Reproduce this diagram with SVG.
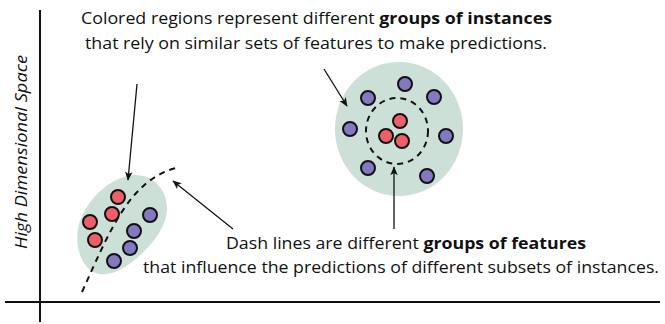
<svg xmlns="http://www.w3.org/2000/svg" width="665" height="324" viewBox="0 0 665 324">
<defs>
<style>
.txt{font-family:"Open Sans","Noto Sans","Liberation Sans",sans-serif;font-size:16.5px;fill:#111}
.b{font-weight:bold}
.ax{stroke:#111;stroke-width:2;fill:none}
.region{fill:#cde0d7}
.red{fill:#ef5f69;stroke:#111;stroke-width:2}
.blue{fill:#8279c0;stroke:#111;stroke-width:2}
.dash{fill:none;stroke:#111;stroke-width:2;stroke-dasharray:6 5}
.arr{stroke:#111;stroke-width:1.3;fill:none;marker-end:url(#ah)}
</style>
<marker id="ah" viewBox="0 0 12 10" refX="11" refY="5" markerWidth="9" markerHeight="8" markerUnits="userSpaceOnUse" orient="auto">
<path d="M0,0 L12,5 L0,10 L3,5 Z" fill="#111"/>
</marker>
</defs>
<rect width="665" height="324" fill="#fff"/>
<g id="axes">
<line class="ax" x1="40" y1="10" x2="40" y2="322"/>
<line class="ax" x1="5" y1="302" x2="660" y2="302"/>
<text class="txt" font-style="italic" font-size="16" transform="translate(27,152) rotate(-90)" text-anchor="middle" textLength="194" lengthAdjust="spacingAndGlyphs">High Dimensional Space</text>
</g>
<g id="region-left">
<path class="region" d="M136,175 C153,175 167,190 167,208 C167,228 150,248 132,262 C118,273 100,280 88,268 C76,256 74,232 82,216 C90,198 112,175 136,175 Z"/>
<circle class="red" cx="118" cy="197" r="7"/>
<circle class="red" cx="112" cy="214" r="7"/>
<circle class="red" cx="90" cy="222" r="7"/>
<circle class="red" cx="95" cy="240" r="7"/>
<circle class="blue" cx="150" cy="215" r="7"/>
<circle class="blue" cx="134" cy="231" r="7"/>
<circle class="blue" cx="130" cy="248" r="7"/>
<circle class="blue" cx="114" cy="261" r="7"/>
</g>
<g id="region-right">
<ellipse class="region" cx="399" cy="129" rx="64" ry="67"/>
<circle class="blue" cx="405" cy="84" r="7"/>
<circle class="blue" cx="368" cy="98" r="7"/>
<circle class="blue" cx="434" cy="97" r="7"/>
<circle class="blue" cx="350" cy="129" r="7"/>
<circle class="blue" cx="446" cy="136" r="7"/>
<circle class="blue" cx="368" cy="168" r="7"/>
<circle class="blue" cx="427" cy="176" r="7"/>
<circle class="red" cx="400" cy="121" r="7"/>
<circle class="red" cx="386" cy="136" r="7"/>
<circle class="red" cx="402" cy="141" r="7"/>
</g>
<g id="feature-groups">
<path class="dash" d="M82,292 C110,230 130,180 176,168"/>
<ellipse class="dash" cx="397" cy="131" rx="31" ry="33"/>
</g>
<g id="connectors">
<line class="arr" x1="137" y1="84" x2="128" y2="180"/>
<line class="arr" x1="233" y1="229" x2="173" y2="181"/>
<line class="arr" x1="324" y1="69" x2="347" y2="106"/>
<line class="arr" x1="394" y1="229" x2="394" y2="167"/>
</g>
<g id="label-top">
<text class="txt" x="81" y="24" textLength="471" lengthAdjust="spacingAndGlyphs">Colored regions represent different <tspan class="b">groups of instances</tspan></text>
<text class="txt" x="85" y="49" textLength="462" lengthAdjust="spacingAndGlyphs">that rely on similar sets of features to make predictions.</text>
</g>
<g id="label-bottom">
<text class="txt" x="226" y="249" textLength="360" lengthAdjust="spacingAndGlyphs">Dash lines are different <tspan class="b">groups of features</tspan></text>
<text class="txt" x="143" y="273" textLength="516" lengthAdjust="spacingAndGlyphs">that influence the predictions of different subsets of instances.</text>
</g>
</svg>
